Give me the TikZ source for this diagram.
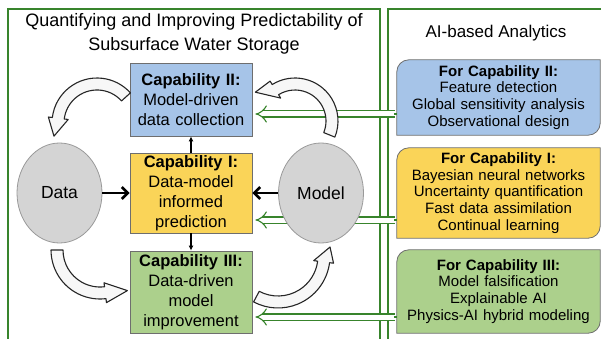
\documentclass[tikz,border=0pt]{standalone}
\usepackage{fontspec}
\setmainfont{Liberation Sans}
\usetikzlibrary{arrows.meta,positioning,calc,backgrounds,shapes.geometric}
\definecolor{panelgreen}{RGB}{56,132,44}
\definecolor{capblue}{RGB}{166,196,232}
\definecolor{capyellow}{RGB}{250,212,88}
\definecolor{capgreen}{RGB}{172,208,140}
\definecolor{blobgray}{RGB}{212,212,212}
\definecolor{edgegray}{RGB}{110,110,110}

% white block arrow bent on a circle:
% centre, mid radius, start angle, end angle, tip angle, tip radius
\newcommand{\ringarrow}[6]{%
  \draw[ring] ($(#1)+(#3:#2-6)$) arc[start angle=#3, end angle=#4, radius=#2-6]
    -- ($(#1)+(#4:#2-10)$) -- ($(#1)+(#5:#6)$) -- ($(#1)+(#4:#2+10)$)
    -- ($(#1)+(#4:#2+6)$) arc[start angle=#4, end angle=#3, radius=#2+6] -- cycle;}

% analytics box outline, rounded at top left and bottom right only
\newcommand{\aishape}[2]{%
  \draw[aiedge, fill=#2] (#1.south west) -- ($(#1.north west)+(0,12)$)
    arc[start angle=180, end angle=270, radius=12] -- (#1.north east)
    -- ($(#1.south east)+(0,-12)$) arc[start angle=0, end angle=90, radius=12] -- cycle;}

\begin{document}
\begin{tikzpicture}[x=1pt, y=-1pt,
  capbox/.style={draw=edgegray, line width=0.8pt, text width=118pt, inner sep=2pt,
                 align=center, font=\fontsize{16.5}{20}\selectfont},
  aibox/.style={minimum width=203pt, text width=199pt, inner sep=2pt,
                align=center, font=\fontsize{15}{16.8}\selectfont},
  aiedge/.style={draw=edgegray, line width=0.8pt},
  blob/.style={ellipse, draw=gray!80, fill=blobgray, line width=0.8pt,
               minimum width=85pt, minimum height=100pt, inner sep=0pt,
               font=\fontsize{17.5}{20}\selectfont},
  panel/.style={draw=panelgreen, line width=1.6pt},
  hd/.style={align=center},
  bigarr/.style={-{Straight Barb[length=6pt,width=12pt]}, line width=2.6pt},
  smallarr/.style={-{Latex[length=5pt,width=5pt]}, line width=1.2pt},
  ring/.style={draw=black!85, line width=1.1pt, fill=white!97!black, line join=round},
  feed/.style={draw=panelgreen, double=white, double distance=5pt, line width=1.1pt,
               {Square[length=2.5pt]}-{Implies[scale=1.5]}, shorten >=3pt},
]
\useasboundingbox (0,0) rectangle (601,339);
\clip (0,0) rectangle (601,339);

\def\cx{191}     % centre column
\def\rx{498.5}   % analytics column

%% ---- TITLES ----
\node[hd, font=\fontsize{18}{24}\selectfont] (ltitle) at (194,34)
  {Quantifying and Improving Predictability of\\Subsurface Water Storage};
\node[hd, font=\fontsize{17}{20}\selectfont] (rtitle) at (496,33) {AI-based Analytics};

%% ---- CAPABILITIES ----
\node[capbox, fill=capblue, minimum height=73pt] (capII) at (\cx,99.5)
  {\textbf{Capability II:}\\Model-driven\\data collection};
\node[capbox, fill=capyellow, minimum height=80pt] (capI) at (\cx,193)
  {\textbf{Capability I:}\\Data-model\\informed\\prediction};
\node[capbox, fill=capgreen, minimum height=82pt] (capIII) at (\cx,292)
  {\textbf{Capability III:}\\Data-driven\\model\\improvement};
\node[blob] (data) at (59.5,193) {Data};

%% ---- ANALYTICS ----
\node[aibox, minimum height=75pt] (rII) at (\rx,97.5)
  {\textbf{For Capability II:}\\Feature detection\\Global sensitivity analysis\\Observational design};
\node[aibox, minimum height=90pt] (rI) at (\rx,193)
  {\textbf{For Capability I:}\\Bayesian neural networks\\Uncertainty quantification\\Fast data assimilation\\Continual learning};
\node[aibox, minimum height=83pt] (rIII) at (\rx,291.5)
  {\textbf{For Capability III:}\\Model falsification\\Explainable AI\\Physics-AI hybrid modeling};

\begin{scope}[on background layer]
  % panel frames
  \draw[panel] (8,350) -- (8,9) -- (380,9) -- (380,350);
  \draw[panel] (388,350) -- (388,9) -- (610,9);
  \aishape{rII}{capblue}
  \aishape{rI}{capyellow}
  \aishape{rIII}{capgreen}
  % analytics feeding the capabilities
  \draw[feed] (rII.west |- 0,114) -- (capII.east |- 0,114);
  \draw[feed] (rI.west |- 0,220) -- (capI.east |- 0,220);
  \draw[feed] (rIII.west |- 0,317) -- (capIII.east |- 0,317);
\end{scope}

\node[blob] (model) at (321,193) {Model};

%% ---- ARROWS ----
\draw[bigarr] (data) -- (capI);
\draw[bigarr] (model) -- (capI);
\draw[smallarr] (capI) -- (capII);
\draw[smallarr] (capI) -- (capIII);

\coordinate (ringA) at (97,123);
\coordinate (ringB) at (295,121);
\coordinate (ringC) at (100,250);
\coordinate (ringD) at (278,256);
\ringarrow{ringA}{39}{-42}{-173}{163}{45}
\ringarrow{ringB}{37}{22}{-122}{-144}{49}
\ringarrow{ringC}{43}{180}{83}{56}{49}
\ringarrow{ringD}{46}{118}{7.4}{-9.8}{52.8}

\end{tikzpicture}
\end{document}
